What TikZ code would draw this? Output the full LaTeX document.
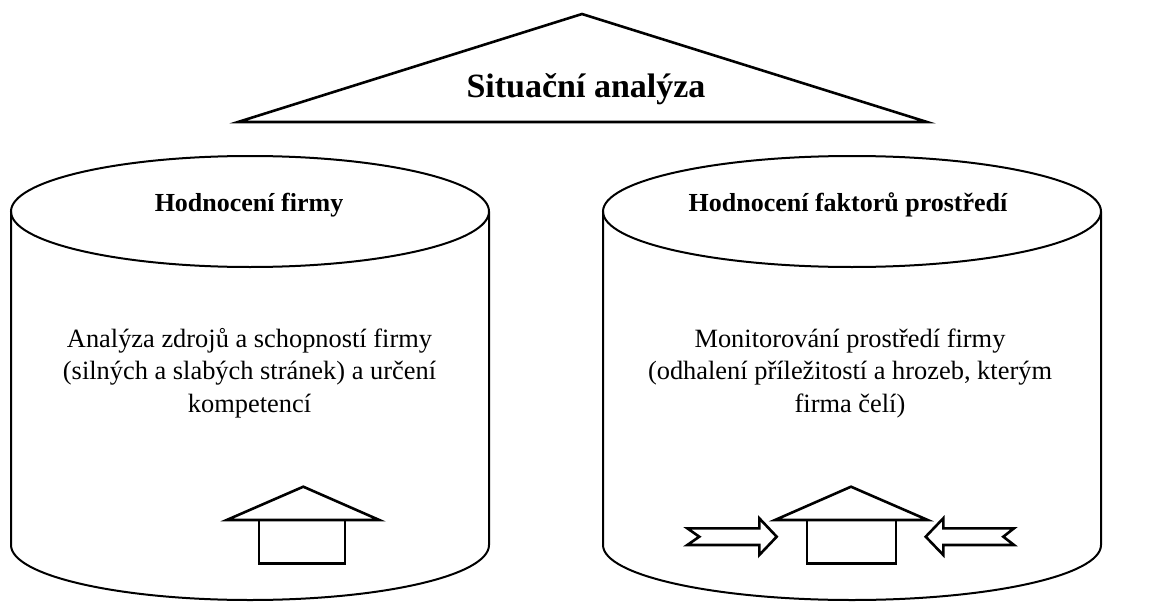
\documentclass[tikz,border=0pt]{standalone}
\usepackage{fontspec}
\setmainfont{Liberation Serif}
\begin{document}
\begin{tikzpicture}[x=1pt,y=-1pt,
  cylline/.style={draw=black,line width=2pt},
  shapeline/.style={draw=black,line width=2.6pt,line join=miter},
  titletext/.style={anchor=base,inner sep=0pt,font=\fontsize{34}{40}\selectfont\bfseries},
  headtext/.style={anchor=base,inner sep=0pt,font=\fontsize{26}{32}\selectfont\bfseries},
  bodytext/.style={anchor=base,inner sep=0pt,align=center,font=\fontsize{26.4}{32.5}\selectfont}]
\useasboundingbox (0,0) rectangle (1152,602);

% roof triangle with the title
\draw[shapeline] (582,14) -- (927,122) -- (238,122) -- cycle;
\node[titletext] (title) at (586,98) {Situační analýza};

% left cylinder: the firm
\draw[cylline] (11,211.5) -- (11,545)
  arc[start angle=180,end angle=360,x radius=239pt,y radius=55pt] -- (489,211.5);
\draw[cylline] (250,211.5) ellipse [x radius=239pt,y radius=55.5pt];
\node[headtext] (firmhead) at (249,211) {Hodnocení firmy};
% multi-line body text: the base anchor sits on the last line
\node[bodytext] (firmbody) at (249.5,412)
  {Analýza zdrojů a schopností firmy\\(silných a slabých stránek) a určení\\kompetencí};

% right cylinder: the environment
\draw[cylline] (603,211.5) -- (603,545)
  arc[start angle=180,end angle=360,x radius=249pt,y radius=55pt] -- (1101,211.5);
\draw[cylline] (852,211.5) ellipse [x radius=249pt,y radius=55.5pt];
\node[headtext] (envhead) at (848,211) {Hodnocení faktorů prostředí};
\node[bodytext] (envbody) at (850,412)
  {Monitorování prostředí firmy\\(odhalení příležitostí a hrozeb, kterým\\firma čelí)};

% small house, left
\draw[shapeline] (226.7,520) -- (303.3,486.7) -- (379.3,520) -- cycle;
\draw[shapeline] (259,520) rectangle (345,563.3);

% small house, right
\draw[shapeline] (775,520) -- (851,486.7) -- (927.7,520) -- cycle;
\draw[shapeline] (807,520) rectangle (896,563.3);

% notched arrows pointing at the house
\draw[shapeline] (687.3,528.3) -- (759.3,528.3) -- (759.3,518.3) -- (776.7,536.7)
  -- (759.3,555) -- (759.3,545) -- (687.3,545) -- (699.3,536.7) -- cycle;
\draw[shapeline] (1014,528.3) -- (943.3,528.3) -- (943.3,518.3) -- (925.7,536.7)
  -- (943.3,555) -- (943.3,545) -- (1014,545) -- (1003.3,536.7) -- cycle;
\end{tikzpicture}
\end{document}
